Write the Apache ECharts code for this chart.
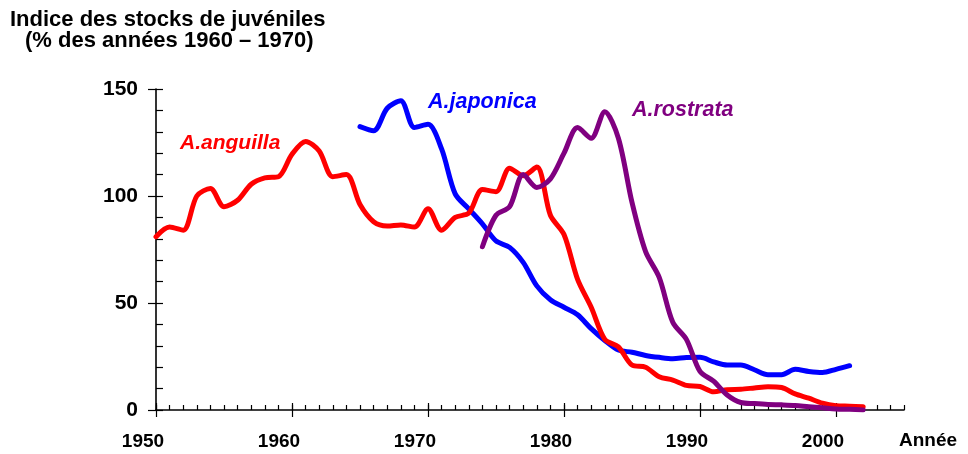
<!DOCTYPE html>
<html>
<head>
<meta charset="utf-8">
<script src="https://cdn.jsdelivr.net/npm/echarts@6/dist/echarts.min.js"></script>
<style>html,body{margin:0;padding:0;background:#fff}#c{width:968px;height:454px}</style>
</head>
<body>
<div id="c"></div>
<script>
// Years (x) and juvenile stock index values
const anguillaYears = [1950,1951,1952,1953,1954,1955,1956,1957,1958,1959,1960,1961,1962,1963,1964,1965,1966,1967,1968,1969,1970,1971,1972,1973,1974,1975,1976,1977,1978,1979,1980,1981,1982,1983,1984,1985,1986,1987,1988,1989,1990,1991,1992,1993,1994,1995,1996,1997,1998,1999,2000,2001,2002];
const anguillaValues = [81,85.5,84,100,103.5,95,98,105.5,108.5,109,119.5,125.5,121,109,110,96,88,86,86.5,85.5,94,84,90,92,103,102,113,109.5,113.5,91,82,61,48,33,29.5,21,20,15.5,14,11.5,11,8.5,9.5,9.7,10.3,10.9,10.5,7.5,5.5,3.2,2,1.8,1.5];

const japonicaYears = [1965,1966,1967,1968,1969,1970,1971,1972,1973,1974,1975,1976,1977,1978,1979,1980,1981,1982,1983,1984,1985,1986,1987,1988,1989,1990,1991,1992,1993,1994,1995,1996,1997,1998,1999,2000,2001];
const japonicaValues = [132.4,130.5,141,144.5,132,133.5,122,101,94,87,79,76,69,58,51.5,48,44.5,38,32.5,28,27,25.5,24.6,24,24.5,24.6,22.5,21,21,18.8,16.5,16.5,19,18,17.5,19,20.7];

const rostrataYears = [1974,1975,1976,1977,1978,1979,1980,1981,1982,1983,1984,1985,1986,1987,1988,1989,1990,1991,1992,1993,1994,1995,1996,1997,1998,1999,2000,2001,2002];
const rostrataValues = [76.3,91,95,110,104,108,120,132,127,139.4,127,97,74,62,41,33,18,13.5,7,3.5,3,2.6,2.4,2.1,1.5,1,0.5,0.3,0];

const xTickLabels = [1950,1960,1970,1980,1990,2000];
const yTickLabels = [0,50,100,150];

const pairs = (xs, ys) => xs.map((x, i) => [x, ys[i]]);

const chart = echarts.init(document.getElementById('c'), null, {renderer: 'canvas'});
const black = '#000';
const baseX = {type: 'value', min: 1950, max: 2005, gridIndex: 0, position: 'bottom', splitLine: {show: false}};
const baseY = {type: 'value', min: 0, max: 150, gridIndex: 0, position: 'left', splitLine: {show: false}};

chart.setOption({
  animation: false,
  backgroundColor: '#fff',
  grid: {left: 156, top: 89, width: 748, height: 321, containLabel: false},
  xAxis: [
    Object.assign({}, baseX, {
      interval: 1,
      axisLine: {show: true, lineStyle: {color: black, width: 1.6}},
      axisTick: {show: true, inside: true, length: 5, lineStyle: {color: black, width: 1.2}},
      axisLabel: {show: true, customValues: xTickLabels, formatter: v => String(v), color: black, fontFamily: 'Liberation Sans, Arial, sans-serif', fontWeight: 'bold', fontSize: 19, margin: 22, align: 'center', padding: [0, 26, 0, 0]}
    }),
    Object.assign({}, baseX, {
      interval: 10,
      axisLine: {show: false},
      axisTick: {show: true, customValues: xTickLabels, inside: false, length: 7, lineStyle: {color: black, width: 1.2}},
      axisLabel: {show: false}
    }),
    Object.assign({}, baseX, {
      interval: 10,
      axisLine: {show: false},
      axisTick: {show: true, customValues: xTickLabels, inside: true, length: 7, lineStyle: {color: black, width: 1.2}},
      axisLabel: {show: false}
    })
  ],
  yAxis: [
    Object.assign({}, baseY, {
      interval: 10,
      axisLine: {show: true, lineStyle: {color: black, width: 1.6}},
      axisTick: {show: true, inside: true, length: 7, lineStyle: {color: black, width: 1.2}},
      axisLabel: {show: true, customValues: yTickLabels, formatter: v => String(v), color: black, fontFamily: 'Liberation Sans, Arial, sans-serif', fontWeight: 'bold', fontSize: 21, margin: 18, padding: [5, 0, 0, 0]}
    }),
    Object.assign({}, baseY, {
      interval: 50,
      axisLine: {show: false},
      axisTick: {show: true, customValues: yTickLabels, inside: false, length: 8, lineStyle: {color: black, width: 1.2}},
      axisLabel: {show: false}
    })
  ],
  series: [
    {name: 'A.japonica', type: 'line', xAxisIndex: 0, yAxisIndex: 0, data: pairs(japonicaYears, japonicaValues), smooth: 0.3, showSymbol: false, symbol: 'none', lineStyle: {color: '#0000FF', width: 5, cap: 'round', join: 'round'}, z: 2},
    {name: 'A.anguilla', type: 'line', xAxisIndex: 0, yAxisIndex: 0, data: pairs(anguillaYears, anguillaValues), smooth: 0.3, showSymbol: false, symbol: 'none', lineStyle: {color: '#FF0000', width: 5, cap: 'round', join: 'round'}, z: 3},
    {name: 'A.rostrata', type: 'line', xAxisIndex: 0, yAxisIndex: 0, data: pairs(rostrataYears, rostrataValues), smooth: 0.3, showSymbol: false, symbol: 'none', lineStyle: {color: '#800080', width: 5, cap: 'round', join: 'round'}, z: 4}
  ],
  graphic: [
    {type: 'text', left: 10, top: 9, style: {text: 'Indice des stocks de juvéniles', fill: black, font: 'bold 22px "Liberation Sans", Arial, sans-serif'}},
    {type: 'text', left: 25, top: 30, style: {text: '(% des années 1960 – 1970)', fill: black, font: 'bold 22px "Liberation Sans", Arial, sans-serif'}},
    {type: 'text', left: 180, top: 133, style: {text: 'A.anguilla', fill: '#FF0000', font: 'italic bold 21px "Liberation Sans", Arial, sans-serif'}},
    {type: 'text', left: 428, top: 91, style: {text: 'A.japonica', fill: '#0000FF', font: 'italic bold 21.5px "Liberation Sans", Arial, sans-serif'}},
    {type: 'text', left: 632, top: 99, style: {text: 'A.rostrata', fill: '#800080', font: 'italic bold 21.5px "Liberation Sans", Arial, sans-serif'}},
    {type: 'text', left: 899, top: 431, style: {text: 'Année', fill: black, font: 'bold 19px "Liberation Sans", Arial, sans-serif'}}
  ]
});
</script>
</body>
</html>
